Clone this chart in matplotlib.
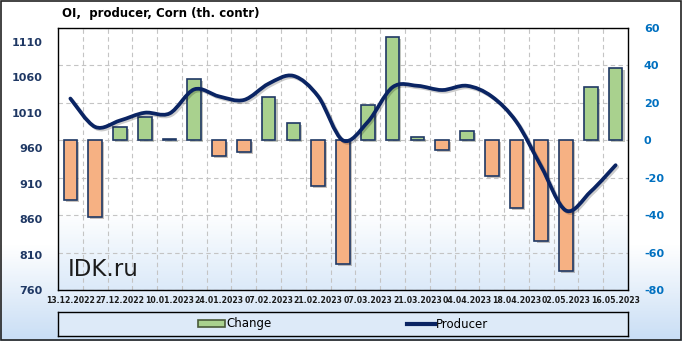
import numpy as np
import matplotlib
matplotlib.use("Agg")
import matplotlib.pyplot as plt
import matplotlib.patheffects as pe
from matplotlib.path import Path
from matplotlib.patches import PathPatch, Rectangle
from matplotlib.lines import Line2D
from matplotlib.colors import LinearSegmentedColormap

plt.rcParams["axes.unicode_minus"] = False

dates = ["13.12.2022", "20.12.2022", "27.12.2022", "03.01.2023", "10.01.2023",
         "17.01.2023", "24.01.2023", "31.01.2023", "07.02.2023", "14.02.2023",
         "21.02.2023", "28.02.2023", "07.03.2023", "14.03.2023", "21.03.2023",
         "28.03.2023", "04.04.2023", "11.04.2023", "18.04.2023", "25.04.2023",
         "02.05.2023", "09.05.2023", "16.05.2023"]
change = [-32, -41, 7, 12.5, 0.5, 33, -8.5, -6.3, 23, 9.5, -24.5, -66,
          19, 55, 2, -5, 5, -19, -36, -54, -70, 28.5, 38.5]
producer = [1030, 990, 999, 1010, 1009, 1043, 1033, 1028, 1051, 1062,
            1033, 971, 997, 1046, 1048, 1042, 1048, 1033, 997, 934,
            872, 899, 936]
left_ticks = [760, 810, 860, 910, 960, 1010, 1060, 1110]
right_ticks = [-80, -60, -40, -20, 0, 20, 40, 60]

navy = "#1F3864"
line_col = "#0A2463"

fig = plt.figure(figsize=(6.82, 3.41), dpi=100)

# figure background: white turning light blue towards the bottom
bg = fig.add_axes([0, 0, 1, 1], zorder=-10)
bg_cmap = LinearSegmentedColormap.from_list("bg", [(0, "#C9DEF5"), (0.28, "#FFFFFF"), (1, "#FFFFFF")])
bg.imshow(np.linspace(0, 1, 200).reshape(-1, 1), aspect="auto", cmap=bg_cmap,
          origin="lower", extent=[0, 1, 0, 1])
bg.set_axis_off()
fig.patches.append(Rectangle((0.001, 0.002), 0.997, 0.995, transform=fig.transFigure,
                             fill=False, edgecolor="#222222", lw=1.2))

ax = fig.add_axes([58 / 682, 1 - 290 / 341, 570 / 682, 262 / 341])
ax.set_facecolor("none")
pa_cmap = LinearSegmentedColormap.from_list("pa", [(0, "#DCEAF9"), (0.3, "#FFFFFF"), (1, "#FFFFFF")])
ax.imshow(np.linspace(0, 1, 200).reshape(-1, 1), aspect="auto", cmap=pa_cmap,
          origin="lower", extent=[0, 1, 0, 1], transform=ax.transAxes, zorder=-5)

x = np.arange(len(dates))
cols = ["#A9D18E" if v >= 0 else "#F6B183" for v in change]
ax.bar(x, change, width=0.55, color=cols, edgecolor=navy, linewidth=1.2, zorder=3,
       path_effects=[pe.SimplePatchShadow(offset=(1.5, -1.5), alpha=0.3), pe.Normal()])

ax.set_xlim(-0.5, len(dates) - 0.5)
ax.set_ylim(-80, 60)
ax.set_yticks(right_ticks)
ax.set_xticks(x[::2])
ax.set_xticklabels(dates[::2], fontsize=5.6, fontweight="bold", color="#1a1a1a")
ax.set_xticks(x[:-1] + 0.5, minor=True)
ax.tick_params(axis="x", which="both", length=0, pad=4)
ax.grid(True, axis="y", which="major", color="#C4C4C4", linestyle=(0, (4, 3)), lw=0.8, zorder=1)
ax.grid(True, axis="x", which="minor", color="#C4C4C4", linestyle=(0, (4, 3)), lw=0.8, zorder=1)
for s in ax.spines.values():
    s.set_color("black")
    s.set_linewidth(1.0)

ax2 = ax.twinx()
ax2.set_ylim(760, 1129.5)
ax2.set_yticks(left_ticks)
for s in ax2.spines.values():
    s.set_visible(False)

# bars axis labels on the right, line axis labels on the left
ax.yaxis.tick_right()
ax2.yaxis.tick_left()
ax.tick_params(axis="y", which="both", left=False, right=False, labelleft=False,
               labelright=True, pad=8, labelsize=8, labelcolor="#0070C0")
ax2.tick_params(axis="y", which="both", left=False, right=False, labelleft=True,
                labelright=False, pad=7.5, labelsize=8, labelcolor=navy)
for t in ax.get_yticklabels() + ax2.get_yticklabels():
    t.set_fontweight("bold")

# smoothed producer line (cubic Bezier segments through the points)
px = x.astype(float)
py = np.array(producer, dtype=float)
verts = [(px[0], py[0])]
codes = [Path.MOVETO]
n = len(px)
for i in range(n - 1):
    p0 = (px[max(i - 1, 0)], py[max(i - 1, 0)])
    p1 = (px[i], py[i])
    p2 = (px[i + 1], py[i + 1])
    p3 = (px[min(i + 2, n - 1)], py[min(i + 2, n - 1)])
    c1 = (p1[0] + (p2[0] - p0[0]) / 6, p1[1] + (p2[1] - p0[1]) / 6)
    c2 = (p2[0] - (p3[0] - p1[0]) / 6, p2[1] - (p3[1] - p1[1]) / 6)
    verts += [c1, c2, p2]
    codes += [Path.CURVE4] * 3
ax2.add_patch(PathPatch(Path(verts, codes), fill=False, edgecolor=line_col, lw=2.7,
                        capstyle="round", zorder=4,
                        path_effects=[pe.SimpleLineShadow(offset=(1.2, -1.2), alpha=0.2), pe.Normal()]))

ax.text((68 - 58) / 570, 1 - (276 - 28) / 262, "IDK.ru", transform=ax.transAxes, fontsize=16.5,
        color="#1c1c1c", va="baseline", ha="left", zorder=5)

fig.text(62 / 682, 1 - 14 / 341, "OI,  producer, Corn (th. contr)", fontsize=8.5,
         fontweight="bold", va="center", ha="left")

# legend box
lax = fig.add_axes([58 / 682, 1 - 336 / 341, 570 / 682, 24 / 341])
lax.set_xticks([])
lax.set_yticks([])
lax.set_facecolor("#DDEAF8")
for s in lax.spines.values():
    s.set_color("black")
    s.set_linewidth(1.0)
handles = [Rectangle((0, 0), 1, 1, facecolor="#A9D18E", edgecolor="#4A5A3A", lw=1.2),
           Line2D([0], [0], color=line_col, lw=3)]
lax.legend(handles, ["Change", "Producer"], loc="center", ncol=2, frameon=False,
           fontsize=8.5, handlelength=2.3, handleheight=0.5, handletextpad=0.1,
           columnspacing=11.5, borderpad=0)

fig.savefig("out.png", dpi=100)
